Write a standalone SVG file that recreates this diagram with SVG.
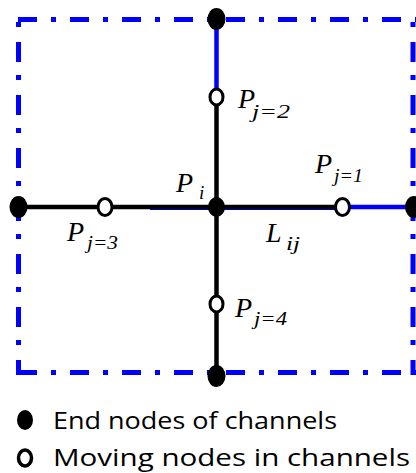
<svg xmlns="http://www.w3.org/2000/svg" width="416" height="473" viewBox="0 0 416 473">
<style>
.border{stroke:#0000ff;stroke-width:5;fill:none;stroke-dasharray:19 14 5 14}
.vborder{stroke:#0000ff;stroke-width:5;fill:none;stroke-dasharray:5 15 20 13}
.blk{stroke:#000;stroke-width:4.5;fill:none}
.blu{stroke:#0000ff;stroke-width:4.5;fill:none}
.end{fill:#000}
.mov{fill:#fff;stroke:#000;stroke-width:3}
.lbl{font-family:"Liberation Serif","Times New Roman",serif;font-style:italic;font-size:28px;fill:#000}
.sub{font-family:"Liberation Serif","Times New Roman",serif;font-style:italic;font-size:19px;fill:#000}
.leg{font-family:"Open Sans","Liberation Sans",sans-serif;font-size:24px;fill:#000}
</style>
<g id="boundary">
<line class="border" x1="18" y1="19.5" x2="416" y2="19.5"/>
<line class="border" x1="18" y1="372.5" x2="416" y2="372.5"/>
<line class="vborder" x1="18.5" y1="22" x2="18.5" y2="375"/>
<line class="vborder" x1="413" y1="22" x2="413" y2="375"/>
</g>
<g id="connectors">
<line class="blu" x1="216.5" y1="19" x2="216.5" y2="97"/>
<line class="blk" x1="216.5" y1="97" x2="216.5" y2="376"/>
<line class="blu" x1="150" y1="208.5" x2="342" y2="208.5" style="stroke-width:3"/>
<line class="blk" x1="18" y1="207" x2="342" y2="207"/>
<line class="blu" x1="342" y1="207" x2="413" y2="207"/>
</g>
<g id="node-top"><ellipse class="end" cx="216.5" cy="19" rx="9" ry="11"/></g>
<g id="node-bottom"><ellipse class="end" cx="216.5" cy="376" rx="9" ry="11"/></g>
<g id="node-left"><ellipse class="end" cx="18.5" cy="207" rx="9" ry="11"/></g>
<g id="node-right"><ellipse class="end" cx="414" cy="207" rx="9" ry="11"/></g>
<g id="node-pi">
<ellipse class="end" cx="216.5" cy="207" rx="8.5" ry="10"/>
<text class="lbl" x="176" y="192">P</text><text class="sub" x="199" y="199">i</text>
</g>
<g id="node-pj2">
<ellipse class="mov" cx="216.5" cy="97" rx="6.5" ry="8"/>
<text class="lbl" x="238" y="108">P</text><text class="sub" x="252" y="118" textLength="38" lengthAdjust="spacingAndGlyphs">j=2</text>
</g>
<g id="node-pj1">
<ellipse class="mov" cx="342.5" cy="207" rx="7" ry="8.5"/>
<text class="lbl" x="315" y="173">P</text><text class="sub" x="334" y="182" textLength="29" lengthAdjust="spacingAndGlyphs">j=1</text>
</g>
<g id="node-pj3">
<ellipse class="mov" cx="105" cy="207" rx="7" ry="8.5"/>
<text class="lbl" x="67" y="241">P</text><text class="sub" x="87" y="249" textLength="31" lengthAdjust="spacingAndGlyphs">j=3</text>
</g>
<g id="node-pj4">
<ellipse class="mov" cx="216.5" cy="304" rx="6.5" ry="8"/>
<text class="lbl" x="235" y="317">P</text><text class="sub" x="254" y="325" textLength="33" lengthAdjust="spacingAndGlyphs">j=4</text>
</g>
<g id="label-lij">
<text class="lbl" x="266" y="242">L</text><text class="sub" x="286" y="250" textLength="14" lengthAdjust="spacingAndGlyphs">ij</text>
</g>
<g id="legend">
<ellipse class="end" cx="25" cy="420" rx="8" ry="10"/>
<text class="leg" x="53" y="429" textLength="284" lengthAdjust="spacingAndGlyphs">End nodes of channels</text>
<ellipse cx="25" cy="458" rx="6.5" ry="8" fill="none" stroke="#000" stroke-width="3.5"/>
<text class="leg" x="53" y="466" textLength="357" lengthAdjust="spacingAndGlyphs">Moving nodes in channels</text>
</g>
</svg>
